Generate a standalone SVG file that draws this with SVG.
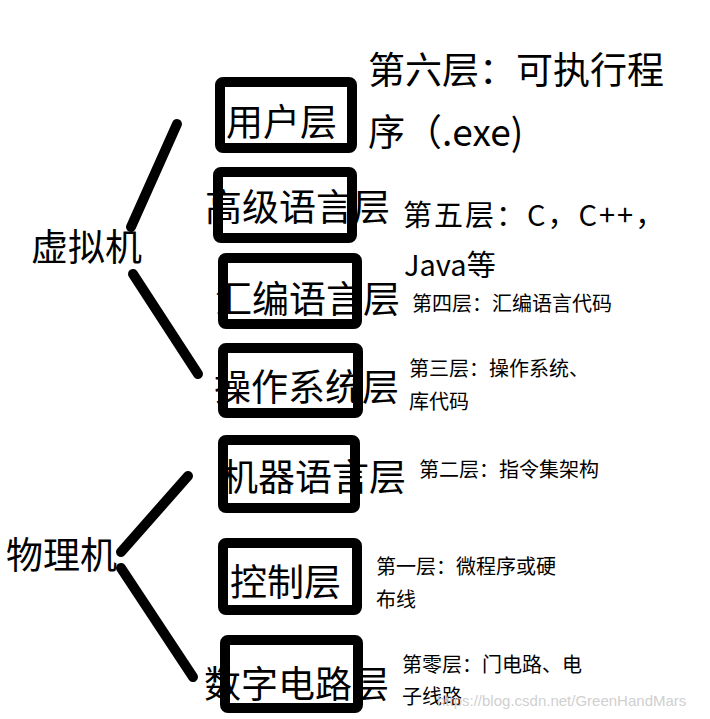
<svg xmlns="http://www.w3.org/2000/svg" width="710" height="719" viewBox="0 0 710 719">
<style>
  .big { font-family: "Noto Sans CJK SC", "Noto Sans", sans-serif; font-size: 37px; fill: #000; dominant-baseline: central; }
  .mid { font-family: "Noto Sans CJK SC", "Noto Sans", sans-serif; font-size: 29px; fill: #000; dominant-baseline: central; }
  .small { font-family: "Noto Sans CJK SC", "Noto Sans", sans-serif; font-size: 20px; fill: #000; dominant-baseline: central; }
  .box { fill: none; stroke: #000; stroke-width: 10; stroke-linejoin: round; }
  .link { stroke: #000; stroke-width: 10; stroke-linecap: round; fill: none; }
  .wm { font-family: "Liberation Sans", Arial, sans-serif; font-size: 15px; fill: #d0d0d0; dominant-baseline: central; }
</style>
<rect width="710" height="719" fill="#fff"/>
<g id="connectors">
  <line class="link" x1="177" y1="124" x2="131" y2="227"/>
  <line class="link" x1="133" y1="274" x2="198" y2="374"/>
  <line class="link" x1="188" y1="476" x2="121" y2="552"/>
  <line class="link" x1="121" y1="568" x2="193" y2="677"/>
</g>
<g id="virtual-machine">
  <text class="big" x="31" y="245">虚拟机</text>
</g>
<g id="physical-machine">
  <text class="big" x="6" y="553">物理机</text>
</g>
<g id="layer6">
  <text class="big" x="226" y="120">用户层</text>
  <rect class="box" x="220" y="82" width="132" height="66" rx="3"/>
  <text class="big" x="368" y="68">第六层：可执行程</text>
  <text class="big" x="368" y="130">序（.exe)</text>
</g>
<g id="layer5">
  <text class="big" x="205" y="205">高级语言层</text>
  <rect class="box" x="218" y="172" width="134" height="66" rx="3"/>
  <text class="mid" x="403" y="213" letter-spacing="2">第五层：C，C++，</text>
  <text class="mid" x="404" y="263">Java等</text>
</g>
<g id="layer4">
  <text class="big" x="215" y="297">汇编语言层</text>
  <rect class="box" x="223" y="258" width="134" height="66" rx="3"/>
  <text class="small" x="412" y="302">第四层：汇编语言代码</text>
</g>
<g id="layer3">
  <text class="big" x="214" y="385">操作系统层</text>
  <rect class="box" x="223" y="348" width="135" height="65" rx="3"/>
  <text class="small" x="409" y="367">第三层：操作系统、</text>
  <text class="small" x="409" y="400">库代码</text>
</g>
<g id="layer2">
  <text class="big" x="221" y="475">机器语言层</text>
  <rect class="box" x="223" y="440" width="132" height="68" rx="3"/>
  <text class="small" x="419" y="468">第二层：指令集架构</text>
</g>
<g id="layer1">
  <text class="big" x="230" y="580">控制层</text>
  <rect class="box" x="223" y="543" width="134" height="67" rx="3"/>
  <text class="small" x="376" y="565">第一层：微程序或硬</text>
  <text class="small" x="376" y="598">布线</text>
</g>
<g id="layer0">
  <text class="big" x="204" y="682">数字电路层</text>
  <rect class="box" x="225" y="640" width="133" height="68" rx="3"/>
  <text class="small" x="402" y="663">第零层：门电路、电</text>
  <text class="small" x="402" y="695">子线路</text>
</g>
<text class="wm" x="437" y="700">https://blog.csdn.net/GreenHandMars</text>
</svg>
